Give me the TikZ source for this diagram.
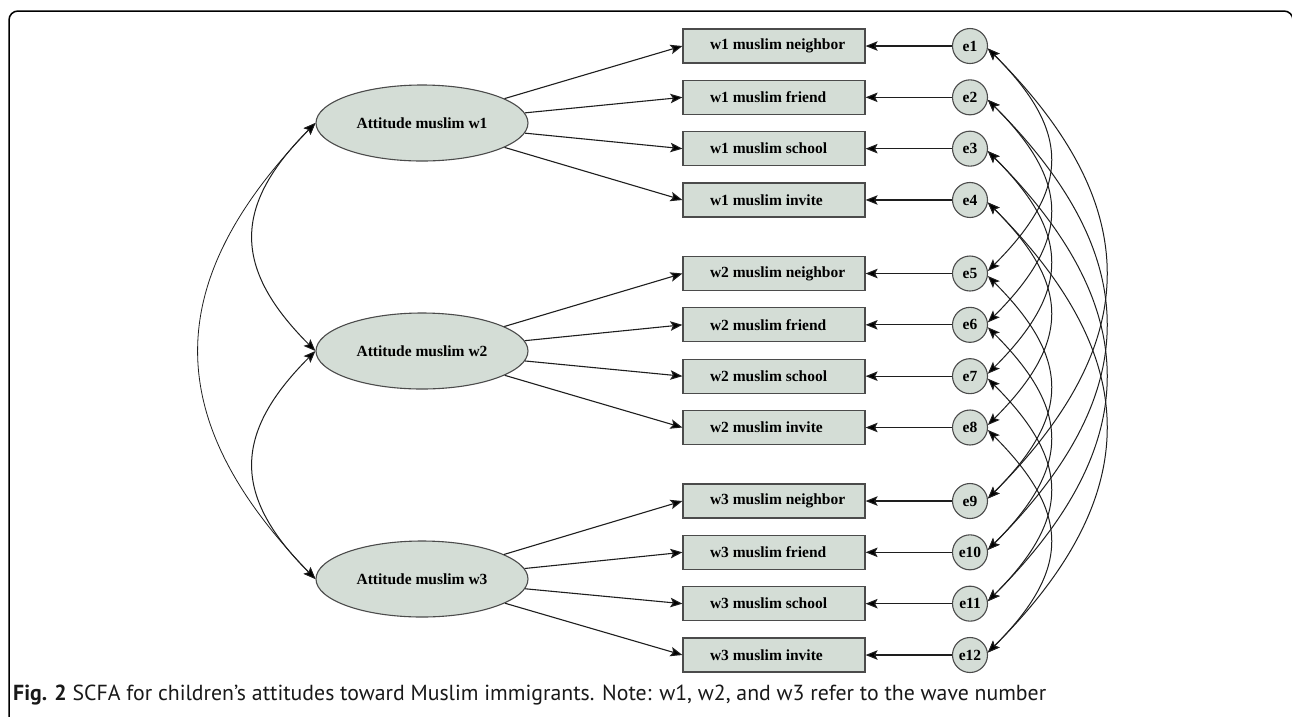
\documentclass[tikz,border=0pt]{standalone}
\usepackage{fontspec}
\usepackage{graphicx}
\setmainfont{Liberation Serif}
\newfontfamily\capfont{PT Sans}
\usetikzlibrary{shapes.geometric,arrows.meta}
\definecolor{nodefill}{RGB}{212,221,214}
\definecolor{edgegray}{RGB}{75,75,75}
\definecolor{linecol}{RGB}{30,30,30}
\begin{document}
\begin{tikzpicture}[x=1pt,y=-1pt,
  nodefont/.style={font=\bfseries\fontsize{15.5}{18}\selectfont},
  latent/.style={ellipse, draw=edgegray, line width=1.1pt, fill=nodefill,
    minimum width=212pt, minimum height=76pt, inner sep=0pt, nodefont},
  obsbox/.style={rectangle, draw=edgegray, line width=1.2pt, fill=nodefill,
    minimum height=34pt, inner xsep=27pt, inner ysep=0pt, nodefont},
  errc/.style={circle, draw=edgegray, line width=1.1pt, fill=nodefill,
    minimum size=35pt, inner sep=0pt, nodefont},
  headtip/.tip={Stealth[length=12pt,width=9.5pt,inset=2.5pt,fill=black]},
  loadarrow/.style={draw=linecol, line width=1.1pt, -headtip},
  covarrow/.style={draw=linecol, line width=1pt, headtip-headtip},
  frame/.style={draw=black, line width=1.5pt, rounded corners=9pt}
]
\useasboundingbox (0,0) rectangle (1292,716);
\clip (0,0) rectangle (1292,716);
\fill[white] (0,0) rectangle (1292,716);
\draw[frame] (9,740) -- (9,11) -- (1293,11) -- (1293,740);

% latent variables
\node[latent] (L1) at (422,123) {Attitude muslim w1};
\node[latent] (L2) at (422,351) {Attitude muslim w2};
\node[latent] (L3) at (422,579) {Attitude muslim w3};

% observed indicators and errors
\foreach \g in {0,1,2} {
  \foreach \i/\lab in {0/neighbor,1/friend,2/school,3/invite} {
    \pgfmathsetmacro\yy{46+51.33*\i+227.5*\g}
    \pgfmathtruncatemacro\k{4*\g+\i+1}
    \pgfmathtruncatemacro\w{\g+1}
    \node[obsbox] (b\k) at (774,\yy) {\makebox[128pt][l]{w\w{} muslim \lab}};
    \node[errc] (e\k) at (970,\yy) {e\k};
  }
}

% loadings
\foreach \g in {1,2,3} {
  \foreach \i in {1,...,4} {
    \pgfmathtruncatemacro\k{4*(\g-1)+\i}
    \draw[loadarrow] (L\g) -- (b\k.west);
  }
}

% error paths
\foreach \k in {1,...,12} {
  \draw[loadarrow] (e\k) -- (b\k.east);
}

% latent covariances
\draw[covarrow] (L1.west) .. controls +(-83,83) and +(-83,-83) .. (L2.west);
\draw[covarrow] (L2.west) .. controls +(-83,83) and +(-83,-83) .. (L3.west);
\draw[covarrow, line width=0.8pt] (L1.west) .. controls +(-155,160) and +(-155,-160) .. (L3.west);

% error covariances (inner, four apart)
\foreach \k in {1,...,8} {
  \pgfmathtruncatemacro\j{\k+4}
  \draw[covarrow] (e\k.-8) .. controls +(83,83) and +(83,-83) .. (e\j.8);
}
% error covariances (outer, eight apart)
\foreach \k in {1,...,4} {
  \pgfmathtruncatemacro\j{\k+8}
  \draw[covarrow] (e\k.-8) .. controls +(157,157) and +(157,-157) .. (e\j.8);
}

% caption
\node[anchor=base west, inner sep=0pt, text=black!90] (cap) at (13,700)
  {\resizebox{1033pt}{!}{\capfont\fontsize{20}{24}\selectfont\textbf{Fig. 2} SCFA for children’s attitudes toward Muslim immigrants. Note: w1, w2, and w3 refer to the wave number}};
\end{tikzpicture}
\end{document}
